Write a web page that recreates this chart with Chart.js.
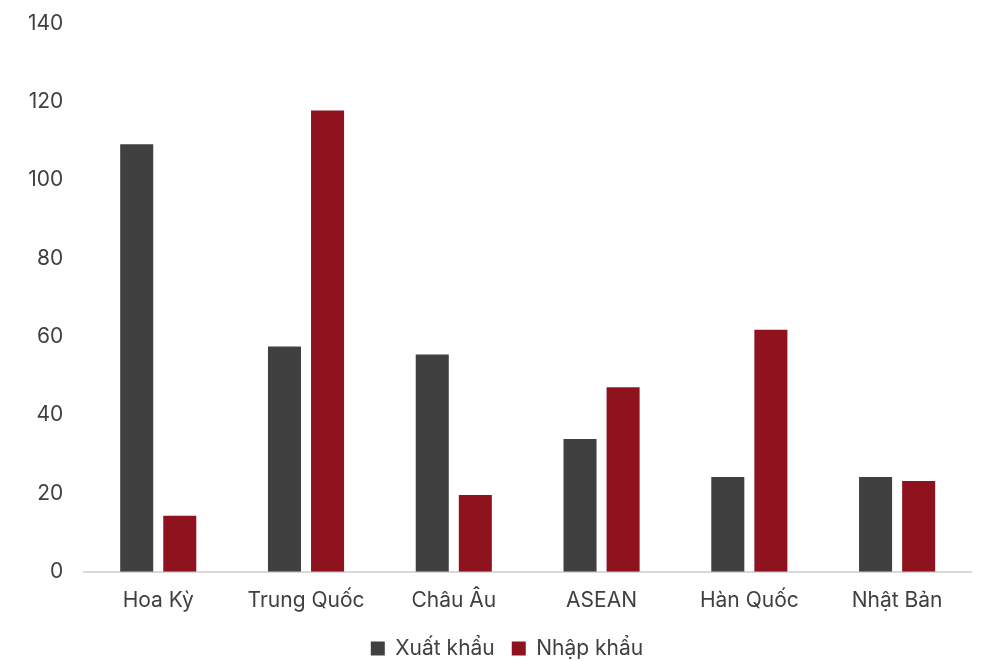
<!DOCTYPE html>
<html>
<head>
<meta charset="utf-8">
<script src="https://cdn.jsdelivr.net/npm/chart.js@4/dist/chart.umd.min.js"></script>
<style>
    html, body { margin: 0; padding: 0; background: #ffffff; }
    .chart-container { position: relative; width: 982px; height: 661px; }
</style>
</head>
<body>
<div class="chart-container">
    <canvas id="tradeChart"></canvas>
</div>
<script>
// partners and values
const categories = ['Hoa Kỳ', 'Trung Quốc', 'Châu Âu', 'ASEAN', 'Hàn Quốc', 'Nhật Bản'];
const exportValues = [109.2, 57.5, 55.5, 33.9, 24.2, 24.2];
const importValues = [14.3, 117.8, 19.6, 47.1, 61.8, 23.2];
const seriesNames = ['Xuất khẩu', 'Nhập khẩu'];
const yTicks = [0, 20, 40, 60, 80, 100, 120, 140];

const textColor = '#404040';
const fontFamily = 'Inter, "Noto Sans", sans-serif';

// legend sits a bit right of the canvas center in the original
const legendShift = {
    id: 'legendShift',
    afterLayout(chart) {
        chart.legend.left += 14;
        chart.legend.right += 14;
    }
};

new Chart(document.getElementById('tradeChart'), {
    type: 'bar',
    data: {
        labels: categories,
        datasets: [{
            label: seriesNames[0],
            data: exportValues,
            backgroundColor: '#404040',
            borderWidth: 0
        }, {
            label: seriesNames[1],
            data: importValues,
            backgroundColor: '#8f131f',
            borderWidth: 0
        }]
    },
    options: {
        responsive: true,
        maintainAspectRatio: false,
        animation: false,
        categoryPercentage: 0.583,
        barPercentage: 0.767,
        layout: {
            padding: { left: 15, right: 11, top: -6, bottom: -8 }
        },
        plugins: {
            legend: {
                position: 'bottom',
                labels: {
                    color: textColor,
                    font: { family: fontFamily, size: 21 },
                    boxWidth: 14,
                    boxHeight: 14,
                    padding: 17
                }
            },
            tooltip: { enabled: false }
        },
        scales: {
            x: {
                grid: { display: false },
                border: { display: true, color: '#d9d9d9', width: 2 },
                ticks: {
                    color: textColor,
                    font: { family: fontFamily, size: 21 },
                    padding: 8
                }
            },
            y: {
                min: 0,
                max: 140,
                afterBuildTicks: (axis) => {
                    axis.ticks = yTicks.map(v => ({ value: v }));
                },
                grid: { display: false },
                border: { display: false },
                ticks: {
                    color: textColor,
                    font: { family: fontFamily, size: 21, lineHeight: 1.0 },
                    padding: 13
                }
            }
        }
    },
    plugins: [legendShift]
});
</script>
</body>
</html>
